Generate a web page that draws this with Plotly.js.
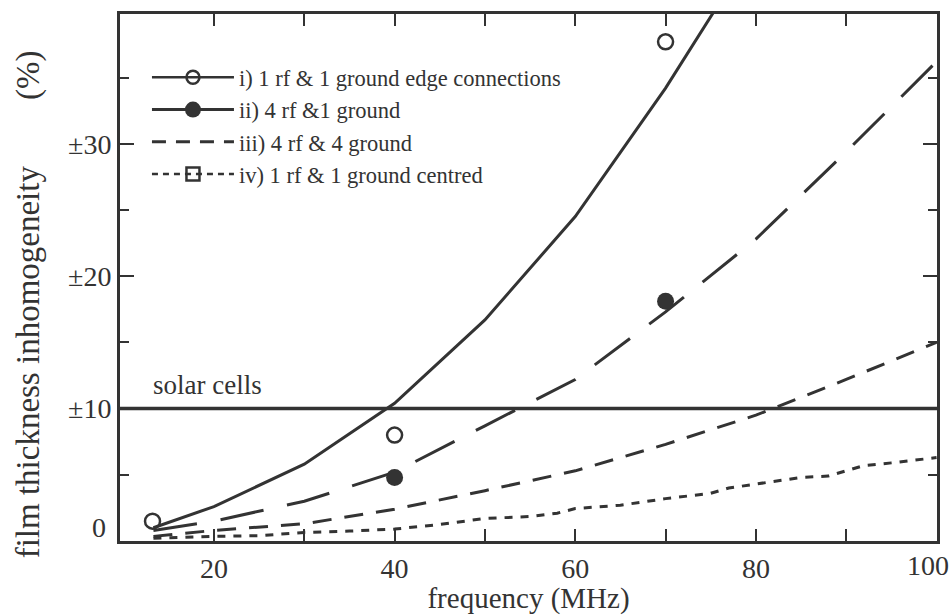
<!DOCTYPE html>
<html>
<head>
<meta charset="utf-8">
<script src="https://cdn.plot.ly/plotly-3.0.1.min.js"></script>
<style>html,body{margin:0;padding:0;background:#fff;}#chart{width:952px;height:615px;}</style>
</head>
<body>
<div id="chart"></div>
<script>
// ---- data ----
// i) 1 rf & 1 ground edge connections (solid curve + open circles)
var iX = [13.3, 20, 30, 40, 50, 60, 70, 80];
var iY = [1.0, 2.6, 5.8, 10.4, 16.7, 24.5, 34.2, 45.0];
var iPtsX = [13.2, 40, 70];
var iPtsY = [1.5, 8.0, 37.7];
// ii) 4 rf & 1 ground (long dash + filled circles)
var iiX = [13.3, 20, 30, 40, 50, 60, 70, 80, 90, 100];
var iiY = [0.8, 1.5, 3.0, 5.2, 8.7, 12.2, 17.3, 22.8, 29.4, 36.2];
var iiPtsX = [40, 70];
var iiPtsY = [4.8, 18.1];
// iii) 4 rf & 4 ground (medium dash)
var iiiX = [13.3, 20, 30, 40, 50, 60, 70, 80, 90, 100];
var iiiY = [0.35, 0.8, 1.3, 2.4, 3.8, 5.3, 7.3, 9.5, 12.2, 15.0];
// iv) 1 rf & 1 ground centred (short dash)
var ivX = [13.3, 20, 25, 30, 35, 40, 45, 50, 55, 58, 60, 65, 70, 75, 77, 80, 85, 88, 90, 92, 95, 100];
var ivY = [0.2, 0.35, 0.4, 0.65, 0.75, 0.9, 1.25, 1.7, 1.85, 2.1, 2.45, 2.7, 3.2, 3.6, 4.0, 4.3, 4.8, 4.9, 5.3, 5.7, 5.9, 6.3];
// reference level
var solarLevel = 10;
var solarLabel = "solar cells";
// labels
var seriesNames = ["i) 1 rf & 1 ground edge connections", "ii) 4 rf &1 ground", "iii) 4 rf & 4 ground", "iv) 1 rf & 1 ground centred"];
var xTickVals = [20, 30, 40, 50, 60, 70, 80, 90, 100];
var xTickText = ["20", "", "40", "", "60", "", "80", "", ""];
var xLastLabel = "100";
var yTickVals = [0, 10, 20, 30];
var yTickText = ["", "\u00b110", "\u00b120", "\u00b130"];
var yZeroLabel = "0";
var yMinorVals = [5, 15, 25, 35];

var C = "#333333";
var FONT = "Liberation Serif";

var traces = [
  {x: iX, y: iY, mode: "lines", line: {color: C, width: 3}, showlegend: false},
  {x: iiX, y: iiY, mode: "lines", line: {color: C, width: 3, dash: "44px,24px"}, showlegend: false},
  {x: iiiX, y: iiiY, mode: "lines", line: {color: C, width: 3, dash: "19px,13px"}, showlegend: false},
  {x: ivX, y: ivY, mode: "lines", line: {color: C, width: 3, dash: "8px,8px"}, showlegend: false},
  {x: iPtsX, y: iPtsY, mode: "markers", marker: {symbol: "circle-open", size: 15, color: C, line: {width: 2.5, color: C}}, showlegend: false},
  {x: iiPtsX, y: iiPtsY, mode: "markers", marker: {symbol: "circle", size: 17, color: C}, showlegend: false},
  // legend entries
  {x: [null], y: [null], name: seriesNames[0], mode: "lines+markers", line: {color: C, width: 2.5},
   marker: {symbol: "circle-open", size: 13, color: C, line: {width: 2.5, color: C}}},
  {x: [null], y: [null], name: seriesNames[1], mode: "lines+markers", line: {color: C, width: 3},
   marker: {symbol: "circle", size: 16, color: C}},
  {x: [null], y: [null], name: seriesNames[2], mode: "lines", line: {color: C, width: 3, dash: "14px,10px"}},
  {x: [null], y: [null], name: seriesNames[3], mode: "lines+markers", line: {color: C, width: 2.5, dash: "6px,5px"},
   marker: {symbol: "square-open", size: 13, color: C, line: {width: 2.5, color: C}}}
];

var layout = {
  width: 952, height: 615,
  margin: {l: 120, r: 15, t: 14, b: 74},
  paper_bgcolor: "#fff", plot_bgcolor: "#fff",
  font: {family: FONT, color: C, size: 24},
  showlegend: true,
  legend: {x: 0.033, y: 0.92, xanchor: "left", yanchor: "top", bgcolor: "rgba(0,0,0,0)",
           font: {family: FONT, size: 22.5, color: C}, itemwidth: 82, tracegroupgap: 0},
  xaxis: {
    range: [9.6, 100.05], tickmode: "array", tickvals: xTickVals, ticktext: xTickText,
    ticks: "inside", ticklen: 12, tickwidth: 2, tickcolor: C,
    showline: true, linewidth: 3, linecolor: C, mirror: "ticks",
    showgrid: false, zeroline: false,
    tickfont: {family: FONT, size: 28, color: C},
    title: {text: "frequency (MHz)", font: {family: FONT, size: 29, color: C}, standoff: 6}
  },
  yaxis: {
    range: [0, 39.8], tickmode: "array", tickvals: yTickVals, ticktext: yTickText,
    ticks: "inside", ticklen: 14, tickwidth: 2, tickcolor: C,
    minor: {tickmode: "array", tickvals: yMinorVals, ticks: "inside", ticklen: 9, tickwidth: 2, tickcolor: C},
    showline: true, linewidth: 3, linecolor: C, mirror: "ticks",
    showgrid: false, zeroline: false,
    tickfont: {family: FONT, size: 28, color: C}
  },
  shapes: [
    {type: "line", xref: "paper", x0: 0, x1: 1, yref: "y", y0: solarLevel, y1: solarLevel, line: {color: C, width: 3.5}}
  ],
  annotations: [
    {text: solarLabel, xref: "x", yref: "y", x: 13.0, y: solarLevel + 1.8, xanchor: "left", yanchor: "middle",
     showarrow: false, font: {family: FONT, size: 27, color: C}},
    {text: yZeroLabel, xref: "paper", yref: "y", x: 0, y: 1.0, xanchor: "right", xshift: -12, yanchor: "middle",
     showarrow: false, font: {family: FONT, size: 28, color: C}},
    {text: xLastLabel, xref: "x", yref: "paper", x: 100, y: 0, xanchor: "right", xshift: 14, yanchor: "top", yshift: -7,
     showarrow: false, font: {family: FONT, size: 28, color: C}},
    {text: "film thickness inhomogeneity\u00a0\u00a0\u00a0\u00a0\u00a0\u00a0\u00a0\u00a0(%)", xref: "paper", yref: "paper",
     x: -0.112, y: 0.45, xanchor: "center", yanchor: "middle", textangle: -90,
     showarrow: false, font: {family: FONT, size: 33, color: C}}
  ]
};

Plotly.newPlot("chart", traces, layout, {displayModeBar: false, staticPlot: true});
</script>
</body>
</html>
